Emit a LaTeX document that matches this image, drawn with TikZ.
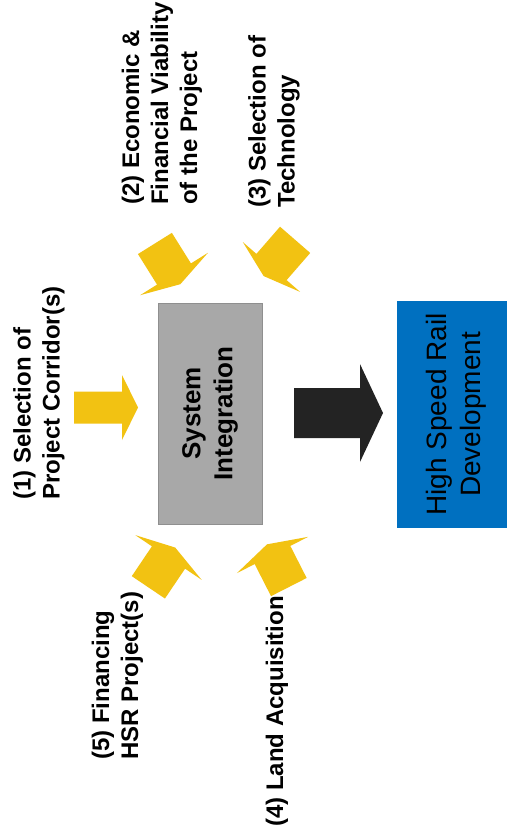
\documentclass[tikz,border=0pt]{standalone}
\usepackage{fontspec}
\setmainfont{Liberation Sans}
\definecolor{yel}{RGB}{242,194,18}
\definecolor{grybox}{RGB}{168,168,168}
\definecolor{bluebox}{RGB}{0,112,192}
\definecolor{blk}{RGB}{35,35,35}
\tikzset{
  pics/blockarrow/.style n args={5}{code={
    \fill[#5] (-#1,-#2) -- (0,-#2) -- (0,-#3) -- (#4,0) -- (0,#3) -- (0,#2) -- (-#1,#2) -- cycle;
  }},
  lbl/.style={rotate=90, align=left, inner sep=0pt, anchor=west,
    font=\bfseries\fontsize{24}{29}\selectfont},
}
\begin{document}
\begin{tikzpicture}[x=1pt,y=1pt]
\useasboundingbox (0,0) rectangle (506,-835);
\fill[white] (0,0) rectangle (506,-835);

% boxes
\node[rotate=90, fill=grybox, draw=grybox!85!black, line width=0.6pt,
      minimum width=221pt, minimum height=104pt, align=center, inner sep=0pt,
      font=\bfseries\fontsize{26}{32}\selectfont] (sys) at (210,-413.5) {System\\Integration};
\node[rotate=90, fill=bluebox, minimum width=227pt, minimum height=118pt,
      align=center, inner sep=0pt,
      font=\fontsize{28}{34}\selectfont] (hsr) at (456,-414.5) {High Speed Rail\\Development};

% block arrows
\pic at (122,-407.5) {blockarrow={48}{16}{32.5}{16}{yel}};
\pic[rotate=-58] at (174,-274) {blockarrow={36}{20}{40}{12}{yel}};
\pic[rotate=-131] at (271.5,-267) {blockarrow={36}{20}{38}{12}{yel}};
\pic[rotate=56] at (168.5,-557.5) {blockarrow={36}{20}{40}{12}{yel}};
\pic[rotate=117] at (272.5,-555) {blockarrow={36}{20}{40}{12}{yel}};
\pic at (360,-413) {blockarrow={66}{25}{49}{23}{blk}};

% labels
\node[lbl] (l1) at (39,-500) {(1) Selection of\\Project Corridor(s)};
\node[lbl] (l2) at (162,-205) {(2) Economic \&\\Financial Viability\\of the Project};
\node[lbl] (l3) at (274,-208) {(3) Selection of\\Technology};
\node[lbl] (l5) at (117.5,-760) {(5) Financing\\HSR Project(s)};
\node[lbl] (l4) at (277,-827) {(4) Land Acquisition};
\end{tikzpicture}
\end{document}
